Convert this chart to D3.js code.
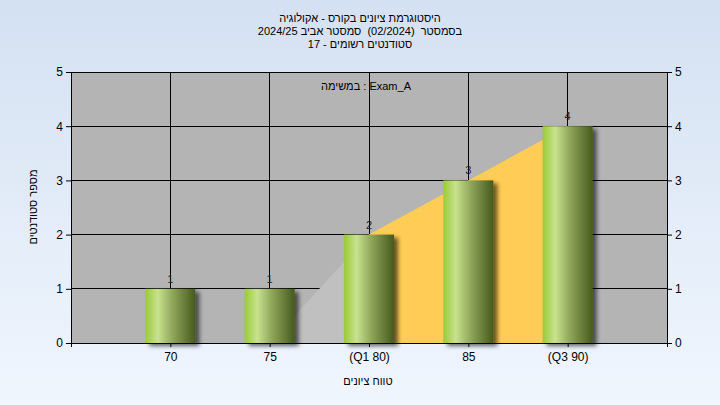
<!DOCTYPE html>
<html><head><meta charset="utf-8">
<script src="https://cdn.jsdelivr.net/npm/d3@7"></script>
<style>
html,body{margin:0;padding:0;background:#fff;}
svg{display:block;}
text{font-family:"Liberation Sans",Arial,sans-serif;}
</style></head>
<body>
<svg id="chart" width="720" height="405"></svg>
<script>
// ---- data ----
const categories = ["70","75","(Q1 80)","85","(Q3 90)"];
const counts = [1,1,2,3,4];
const yTicks = [0,1,2,3,4,5];
const belowQ1Cats = ["75","(Q1 80)"];
const belowQ1Vals = [0,2];
const iqrCats = ["(Q1 80)","85","(Q3 90)"];
const iqrVals = [2,3,4];
const titleLines = ["היסטוגרמת ציונים בקורס - אקולוגיה","בסמסטר  (02/2024)  סמסטר אביב 2024/25","סטודנטים רשומים - 17"];
const legendText = "במשימה : Exam_A";
const xTitle = "טווח ציונים";
const yTitle = "מספר סטודנטים";

const svg = d3.select("#chart");
const W=720,H=405;
const L=71,R=667,T=72,B=343;

const defs = svg.append("defs");
const bg = defs.append("linearGradient").attr("id","bg").attr("x1",0).attr("y1",0).attr("x2",0).attr("y2",1);
bg.append("stop").attr("offset","0%").attr("stop-color","#d4e1f2");
bg.append("stop").attr("offset","100%").attr("stop-color","#f0f6fe");
const bar = defs.append("linearGradient").attr("id","bar").attr("x1",0).attr("y1",0).attr("x2",1).attr("y2",0);
[["0%","#9acb36"],["25%","#c8e28e"],["55%","#8ea55a"],["100%","#465a1c"]].forEach(s=>bar.append("stop").attr("offset",s[0]).attr("stop-color",s[1]));
const f = defs.append("filter").attr("id","sh").attr("x","-20%").attr("y","-20%").attr("width","150%").attr("height","150%");
f.append("feDropShadow").attr("dx",4).attr("dy",3).attr("stdDeviation",2).attr("flood-color","#000").attr("flood-opacity",0.6);

svg.append("rect").attr("width",W).attr("height",H).attr("fill","url(#bg)");

const x = d3.scalePoint().domain(categories).range([L,R]).padding(1);
const y = d3.scaleLinear().domain([0,5]).range([B,T]);

// plot background
svg.append("rect").attr("x",L).attr("y",T).attr("width",R-L).attr("height",B-T).attr("fill","#b4b4b4");

// grid
const g = svg.append("g");
g.selectAll(".hg").data(yTicks).join("line").attr("x1",L).attr("x2",R).attr("y1",d=>y(d)).attr("y2",d=>y(d)).attr("stroke","#000").attr("stroke-width",1).attr("shape-rendering","crispEdges");
g.selectAll(".vg").data(categories).join("line").attr("x1",d=>x(d)).attr("x2",d=>x(d)).attr("y1",T).attr("y2",B).attr("stroke","#000").attr("stroke-width",1).attr("shape-rendering","crispEdges");

// areas
const area = d3.area().x(d=>x(d[0])).y0(y(0)).y1(d=>y(d[1]));
svg.append("path").datum(belowQ1Cats.map((c,i)=>[c,belowQ1Vals[i]])).attr("d",area).attr("fill","#c0c0c0");
svg.append("path").datum(iqrCats.map((c,i)=>[c,iqrVals[i]])).attr("d",area).attr("fill","#ffcc55");

// bars
const bw = 50;
svg.selectAll(".bar").data(categories).join("rect")
  .attr("x",d=>x(d)-bw/2).attr("y",(d,i)=>y(counts[i])).attr("width",bw).attr("height",(d,i)=>y(0)-y(counts[i]))
  .attr("fill","url(#bar)").attr("filter","url(#sh)");

// value labels
svg.selectAll(".vl").data(categories).join("text")
  .attr("x",d=>x(d)).attr("y",(d,i)=>y(counts[i])-6).attr("text-anchor","middle")
  .attr("font-size",11).attr("fill","#222").text((d,i)=>counts[i]);

// axes
const axL = svg.append("g").attr("transform",`translate(${L},0)`).call(d3.axisLeft(y).tickValues(yTicks).tickSize(5).tickPadding(3).tickFormat(d3.format("d")));
const axR = svg.append("g").attr("transform",`translate(${R},0)`).call(d3.axisRight(y).tickValues(yTicks).tickSize(5).tickPadding(3).tickFormat(d3.format("d")));
const axB = svg.append("g").attr("transform",`translate(0,${B})`).call(d3.axisBottom(x).tickSize(4).tickPadding(5));
[axL,axR,axB].forEach(a=>{
  a.select(".domain").attr("stroke","#000");
  a.selectAll("line").attr("stroke","#000");
  a.selectAll("text").attr("font-size",12).attr("fill","#000").attr("font-family","'Liberation Sans',Arial,sans-serif");
});
axB.select(".domain").remove();
svg.append("line").attr("x1",L).attr("x2",R).attr("y1",B+0.5).attr("y2",B+0.5).attr("stroke","#000");
svg.append("line").attr("x1",L+0.5).attr("x2",L+0.5).attr("y1",T).attr("y2",B+4).attr("stroke","#000");
svg.append("line").attr("x1",R+0.5).attr("x2",R+0.5).attr("y1",T).attr("y2",B+4).attr("stroke","#000");
svg.append("line").attr("x1",L).attr("x2",R).attr("y1",T+0.5).attr("y2",T+0.5).attr("stroke","#000");

// titles
svg.selectAll(".tt").data(titleLines).join("text")
  .attr("x",360).attr("y",(d,i)=>22+i*13).attr("text-anchor","middle").attr("direction","rtl")
  .style("white-space","pre")
  .attr("font-size",11).attr("fill","#000").text(d=>d);
svg.append("text").attr("x",366).attr("y",90).attr("text-anchor","middle").attr("direction","ltr").style("unicode-bidi","embed").attr("font-size",11).attr("fill","#000").text(legendText);
svg.append("text").attr("x",368).attr("y",385).attr("text-anchor","middle").attr("font-size",11).attr("fill","#000").text(xTitle);
svg.append("text").attr("transform","translate(37,207) rotate(-90)").attr("text-anchor","middle").attr("font-size",11).attr("fill","#000").text(yTitle);
</script>
</body></html>
